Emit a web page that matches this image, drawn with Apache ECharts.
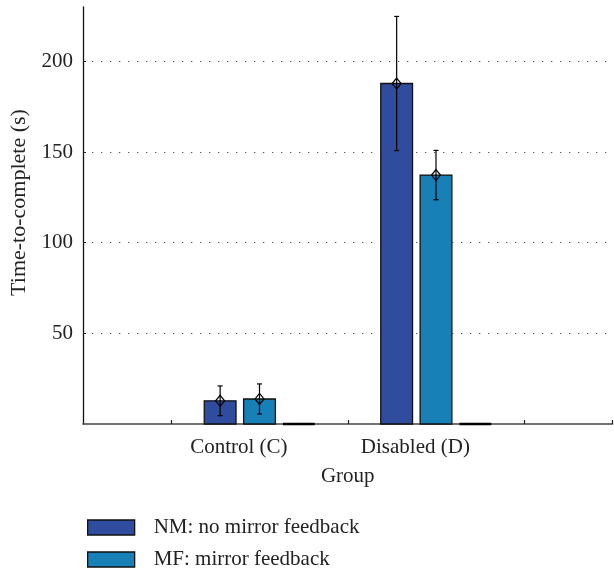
<!DOCTYPE html>
<html>
<head>
<meta charset="utf-8">
<script src="https://cdn.jsdelivr.net/npm/echarts@6/dist/echarts.min.js"></script>
<style>html,body{margin:0;padding:0;background:#fff}#c{width:614px;height:571px}</style>
</head>
<body>
<div id="c"></div>
<script>
// ---- data ----
const categories = ['Control (C)', 'Disabled (D)'];
const seriesNames = ['NM: no mirror feedback', 'MF: mirror feedback'];
const nmMean = [12.8, 187.8];
const nmErr = [8.2, 37.0];
const mfMean = [13.8, 137.3];
const mfErr = [8.3, 13.6];
const emptyMean = [0, 0];
const yTickValues = [50, 100, 150, 200];

// ---- layout helpers (not data) ----
const FONT = 'Liberation Serif';
const colors = ['#2f4c9f', '#1780b6'];
const groupX = i => i + 1.5;          // group centre on the x scale
const offsets = [-0.223, 0, 0.223];   // bar offsets within a group (axis units)
const halfW = 0.09;                   // half bar width (axis units)

function barSeries(name, values, k, color, zero) {
  return {
    name: name,
    type: 'custom',
    itemStyle: { color: color },
    data: values.map((v, i) => [groupX(i), v]),
    renderItem: function (params, api) {
      const x = api.value(0) + offsets[k];
      const v = api.value(1);
      const p0 = api.coord([x - halfW, 0]);
      const p1 = api.coord([x + halfW, v]);
      if (zero) {
        return { type: 'line', shape: { x1: p0[0], y1: p0[1], x2: p1[0], y2: p0[1] },
          style: { stroke: '#000', lineWidth: 2.5 } };
      }
      return { type: 'rect',
        shape: { x: p0[0], y: p1[1], width: p1[0] - p0[0], height: p0[1] - p1[1] },
        style: { fill: color, stroke: '#111', lineWidth: 1.3 } };
    },
    z: 2
  };
}

function errSeries(means, errs, k) {
  return {
    type: 'custom',
    silent: true,
    data: means.map((m, i) => [groupX(i), m, errs[i]]),
    renderItem: function (params, api) {
      const x = api.value(0) + offsets[k];
      const m = api.value(1), e = api.value(2);
      const pm = api.coord([x, m]);
      const ph = api.coord([x, m + e]);
      const pl = api.coord([x, m - e]);
      const cx = pm[0];
      const st = { stroke: '#000', lineWidth: 1.2, fill: null };
      return { type: 'group', children: [
        { type: 'line', shape: { x1: cx, y1: ph[1], x2: cx, y2: pl[1] }, style: st },
        { type: 'line', shape: { x1: cx - 2.5, y1: ph[1], x2: cx + 2.5, y2: ph[1] }, style: st },
        { type: 'line', shape: { x1: cx - 2.5, y1: pl[1], x2: cx + 2.5, y2: pl[1] }, style: st },
        { type: 'polygon', shape: { points: [[cx, pm[1] - 5.5], [cx + 4.5, pm[1]], [cx, pm[1] + 5.5], [cx - 4.5, pm[1]]] },
          style: { stroke: '#000', lineWidth: 1.2, fill: 'none' } }
      ] };
    },
    z: 3
  };
}

const chart = echarts.init(document.getElementById('c'), null, { renderer: 'canvas' });
const labelPos = categories.map((c, i) => groupX(i) - 0.117);

function legendFor(i, top) {
  return {
    left: 87, top: top, padding: 0,
    itemWidth: 47, itemHeight: 15,
    selectedMode: false,
    textStyle: { fontFamily: FONT, fontSize: 21, color: '#222', padding: [0, 0, 0, 14] },
    data: [{ name: seriesNames[i], icon: 'rect',
      itemStyle: { color: colors[i], borderColor: '#111', borderWidth: 1.3 } }]
  };
}

chart.setOption({
  animation: false,
  backgroundColor: '#fff',
  textStyle: { fontFamily: FONT },
  grid: { left: 83, top: 7, right: 1.5, bottom: 147, containLabel: false, outerBoundsMode: 'none' },
  legend: [legendFor(0, 517), legendFor(1, 549)],
  xAxis: {
    type: 'value', min: 0.5, max: 3.5,
    name: 'Group', nameLocation: 'middle', nameGap: 42,
    nameTextStyle: { fontFamily: FONT, fontSize: 21, color: '#222' },
    axisLine: { show: true, onZero: false, lineStyle: { color: '#444', width: 1.5 } },
    axisTick: { show: true, inside: true, length: 4, customValues: [1, 2, 3, 3.5], lineStyle: { color: '#222', width: 1.2 } },
    axisLabel: { customValues: labelPos, margin: 13, fontFamily: FONT, fontSize: 21, color: '#222',
      formatter: function (v) {
        const idx = labelPos.findIndex(p => Math.abs(p - v) < 1e-6);
        return idx >= 0 ? categories[idx] : '';
      } },
    splitLine: { show: false }
  },
  yAxis: {
    type: 'value', min: 0, max: 230, interval: 50,
    name: 'Time-to-complete (s)', nameLocation: 'middle', nameGap: 47,
    nameTextStyle: { fontFamily: FONT, fontSize: 22, color: '#222', padding: [0, 0, 0, 26] },
    axisLine: { show: true, lineStyle: { color: '#111', width: 1.3 } },
    axisTick: { show: true, inside: true, length: 3, customValues: yTickValues, lineStyle: { color: '#222' } },
    axisLabel: { customValues: yTickValues, margin: 10, fontFamily: FONT, fontSize: 21, color: '#222' },
    splitLine: { show: true, lineStyle: { color: '#555', width: 1, type: [1.3, 7.7] } }
  },
  series: [
    barSeries(seriesNames[0], nmMean, 0, colors[0], false),
    barSeries(seriesNames[1], mfMean, 1, colors[1], false),
    barSeries('empty', emptyMean, 2, '#000', true),
    errSeries(nmMean, nmErr, 0),
    errSeries(mfMean, mfErr, 1)
  ]
});
</script>
</body>
</html>
